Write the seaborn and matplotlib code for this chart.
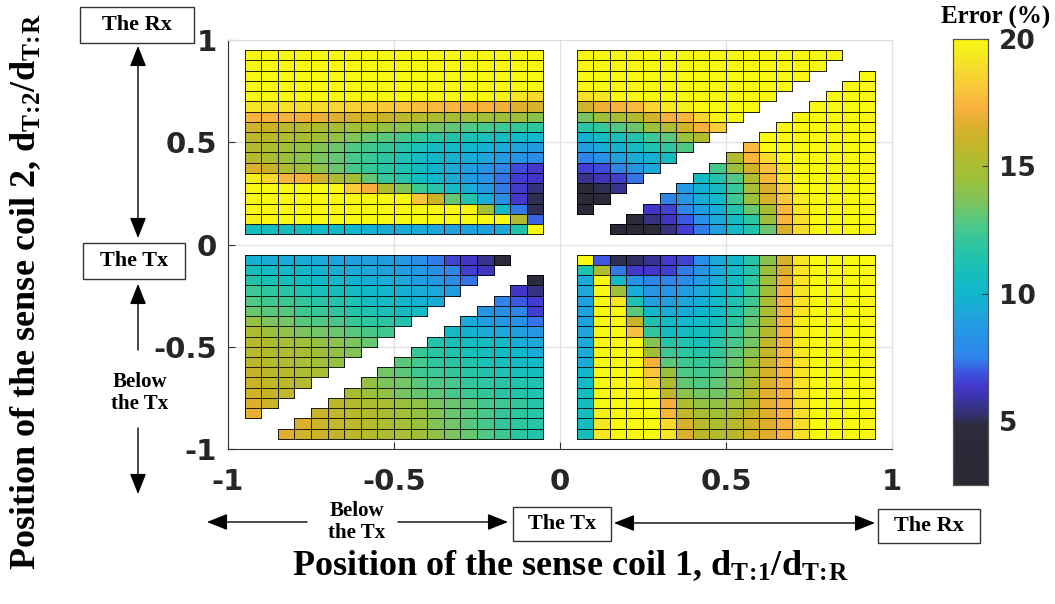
import numpy as np
import pandas as pd
import matplotlib
matplotlib.use('Agg')
import matplotlib.pyplot as plt
import seaborn as sns
from matplotlib.colors import LinearSegmentedColormap
from matplotlib.patches import Rectangle, FancyArrowPatch

N = None

# error (%) per cell, rows from top (y = 0.95) to bottom, columns left to right
# x cells of 0.05 from -0.95..-0.05 and 0.05..0.95, same for y
top_left = [
    [20] * 18,
    [20] * 18,
    [20] * 18,
    [20] * 18,
    [20] * 15 + [19.6, 19.2, 18.8],
    [19.2, 19.1, 19.0, 18.9, 18.8, 18.6, 18.4, 18.3, 18.1, 18.0, 17.8, 17.6, 17.5, 17.4, 17.3, 17.1, 16.7, 16.4],
    [17.4, 17.3, 17.3, 17.1, 17.0, 16.6, 16.4, 16.2, 16.0, 15.6, 15.4, 15.2, 15.0, 14.8, 14.7, 14.6, 14.5, 14.0],
    [16.3, 16.0, 15.6, 15.4, 15.2, 15.0, 14.8, 14.6, 14.3, 14.0, 13.7, 13.4, 13.1, 12.8, 12.5, 12.3, 12.1, 11.9],
    [15.6, 15.5, 15.3, 15.0, 14.7, 14.3, 13.7, 13.3, 12.9, 12.5, 12.2, 11.8, 11.5, 11.2, 11.0, 10.6, 10.3, 10.1],
    [15.4, 15.2, 14.8, 14.3, 13.8, 13.3, 12.8, 12.4, 12.1, 11.6, 11.1, 10.6, 10.3, 10.0, 9.7, 9.4, 9.1, 8.7],
    [15.4, 15.1, 14.5, 14.1, 13.6, 13.1, 12.6, 12.3, 11.8, 11.3, 10.6, 10.2, 9.8, 9.5, 9.2, 8.8, 8.4, 7.9],
    [16.6, 15.9, 15.2, 14.8, 14.1, 13.3, 12.6, 12.2, 11.7, 11.2, 10.5, 9.9, 9.4, 8.9, 8.4, 7.6, 6.8, 6.4],
    [19.6, 18.7, 17.5, 17.3, 16.3, 15.2, 14.6, 13.1, 12.2, 11.6, 10.4, 10.1, 9.5, 8.8, 8.3, 7.3, 6.5, 6.3],
    [20, 20, 20, 20, 20, 20, 18.2, 17.2, 15.3, 13.8, 12.4, 11.6, 10.4, 9.5, 8.6, 7.4, 6.4, 5.4],
    [20] * 10 + [17.9, 16.0, 13.1, 11.5, 9.5, 8.0, 6.4, 5.0],
    [20] * 13 + [19.8, 14.8, 10.3, 7.4, 5.0],
    [19.6] + [20] * 15 + [15.3, 7.1],
    [10.8, 10.7, 10.6, 10.5, 10.3, 10.2, 10.0, 9.8, 9.6, 9.5, 9.4, 9.2, 9.1, 9.0, 9.0, 9.3, 11.5, 20],
]

top_right = [
    [20] * 16 + [N, N],
    [20] * 15 + [N, N, N],
    [20] * 14 + [N, N, N] + [20],
    [20] * 13 + [N, N, N] + [20, 20],
    [19.0, 19.3] + [20] * 10 + [N, N, N] + [20] * 3,
    [16.2, 17.0, 17.4, 17.6, 18.6, 19.4, 19.6, 20, 20, 20, 20] + [N, N, N] + [20] * 4,
    [13.5, 14.6, 15.0, 15.3, 16.3, 17.3, 17.5, 18.6, 19.8, 20] + [N, N, N] + [20] * 5,
    [11.8, 12.2, 12.8, 13.3, 14.5, 15.2, 16.3, 17.3, 18.3] + [N, N, N] + [20] * 6,
    [9.8, 10.5, 11.0, 11.5, 12.3, 13.0, 14.5, 15.3] + [N, N, N] + [20] * 7,
    [8.8, 9.5, 9.8, 10.5, 11.3, 12.0, 12.8] + [N, N, N] + [17.6] + [20] * 7,
    [7.5, 8.3, 9.0, 9.5, 9.8, 10.5] + [N, N, N] + [15.3, 17.5, 18.8] + [20] * 6,
    [6.5, 6.8, 7.5, 8.5, 9.3] + [N, N, N] + [12.5, 14.5, 16.3, 17.8, 19.3] + [20] * 5,
    [5.6, 6.1, 6.5, 7.3] + [N, N, N] + [10.5, 11.5, 12.8, 15.3, 17.5, 19.3] + [20] * 5,
    [4.2, 5.0, 5.6] + [N, N, N] + [8.8, 9.7, 10.5, 12.2, 15.0, 16.5, 18.3] + [20] * 5,
    [3.5, 4.0] + [N, N, N] + [7.5, 8.5, 9.5, 10.3, 12.3, 14.5, 16.5, 18.0, 19.5] + [20] * 4,
    [3.3] + [N, N, N] + [6.3, 6.6, 7.5, 8.8, 9.6, 11.5, 13.3, 15.0, 17.5, 19.3] + [20] * 4,
    [N, N, N] + [4.5, 5.5, 6.2, 7.0, 8.2, 9.3, 10.5, 11.8, 14.5, 17.5, 19.0] + [20] * 4,
    [N, N] + [3.5, 3.8, 4.3, 5.5, 6.5, 7.4, 9.0, 10.3, 11.5, 13.3, 16.5, 18.8] + [20] * 4,
]

bottom_left = [
    [9.8, 9.6, 9.5, 9.5, 9.4, 9.1, 9.0, 8.9, 8.8, 8.6, 8.1, 7.4, 6.6, 6.3, 5.6, 4.5] + [N, N],
    [10.8, 10.4, 10.3, 10.2, 9.8, 9.6, 9.5, 9.2, 9.0, 8.9, 8.6, 8.2, 7.5, 6.5, 6.2] + [N, N, N],
    [11.5, 11.1, 10.9, 10.5, 10.3, 10.2, 9.8, 9.6, 9.5, 9.3, 8.8, 8.6, 7.8, 7.3] + [N, N, N] + [4.5],
    [12.3, 11.9, 11.7, 11.3, 11.0, 10.8, 10.4, 10.2, 10.0, 9.7, 9.5, 9.3, 8.8] + [N, N, N] + [6.3, 5.5],
    [12.8, 12.4, 12.3, 12.1, 11.6, 11.4, 11.2, 10.6, 10.4, 10.2, 9.8, 9.6] + [N, N, N] + [7.5, 7.0, 6.5],
    [13.3, 13.0, 12.9, 12.4, 12.2, 12.0, 11.6, 11.4, 11.1, 10.6, 10.4] + [N, N, N] + [8.5, 8.2, 7.5, 6.5],
    [14.3, 13.6, 13.4, 12.9, 12.8, 12.6, 12.2, 12.0, 11.8, 11.4] + [N, N, N] + [9.5, 8.8, 8.7, 8.3, 7.3],
    [15.1, 14.4, 14.2, 13.6, 13.4, 13.2, 12.9, 12.6, 12.4] + [N, N, N] + [10.3, 9.8, 9.4, 9.2, 9.0, 8.5],
    [15.5, 15.1, 14.9, 14.7, 14.3, 14.1, 13.6, 13.2] + [N, N, N] + [11.5, 11.0, 10.6, 10.5, 10.3, 9.6, 9.3],
    [15.5, 15.3, 15.2, 15.0, 14.6, 14.3, 13.8] + [N, N, N] + [12.2, 11.8, 11.2, 11.0, 10.8, 10.4, 10.2, 9.5],
    [15.6, 15.4, 15.3, 14.9, 14.7, 14.3] + [N, N, N] + [13.0, 12.5, 11.9, 11.7, 11.5, 11.1, 10.9, 10.6, 10.3],
    [15.9, 15.6, 15.5, 15.1, 14.9] + [N, N, N] + [13.4, 13.0, 12.4, 12.3, 12.1, 11.7, 11.5, 11.3, 10.9, 10.7],
    [16.1, 15.8, 15.6, 15.3] + [N, N, N] + [14.3, 13.7, 13.4, 12.9, 12.7, 12.5, 12.1, 11.9, 11.7, 11.4, 11.2],
    [16.3, 15.9, 15.7] + [N, N, N] + [15.0, 14.4, 14.2, 13.5, 13.3, 13.0, 12.5, 12.3, 12.1, 11.7, 11.5, 11.3],
    [16.6, 16.1] + [N, N, N] + [15.6, 15.3, 15.1, 14.9, 14.4, 14.2, 13.5, 13.3, 13.0, 12.5, 12.3, 12.1, 11.6],
    [16.9] + [N, N, N] + [16.1, 15.7, 15.5, 15.3, 15.0, 14.7, 14.3, 13.8, 13.2, 12.9, 12.6, 12.1, 11.9, 11.7],
    [N, N, N] + [16.6, 16.0, 15.8, 15.6, 15.4, 15.2, 14.8, 14.4, 13.8, 13.4, 12.9, 12.5, 12.1, 11.9, 11.7],
    [N, N] + [16.7, 16.3, 16.1, 15.9, 15.6, 15.4, 15.2, 14.9, 14.6, 14.2, 13.6, 13.2, 12.7, 12.3, 11.8, 11.5],
]

bottom_right = [
    [20, 7.0, 5.0, 5.1, 5.7, 6.4, 6.6, 8.1, 9.3, 10.2, 11.6, 14.0, 16.4, 19.2, 20, 20, 20, 20],
    [11.2, 15.2, 7.4, 6.4, 6.3, 6.5, 7.4, 8.4, 9.4, 10.3, 11.6, 14.5, 16.6, 19.3, 20, 20, 20, 20],
    [9.3, 20, 10.3, 8.4, 7.6, 7.5, 7.9, 8.8, 9.5, 10.4, 11.9, 14.7, 17.0, 19.3, 20, 20, 20, 20],
    [9.3, 20, 14.6, 9.5, 8.5, 8.5, 8.8, 9.3, 10.0, 10.7, 12.2, 14.6, 17.2, 19.2, 20, 20, 20, 20],
    [9.0, 20, 19.2, 11.2, 8.9, 8.9, 9.3, 9.6, 10.3, 11.3, 12.4, 15.1, 17.3, 19.2, 20, 20, 20, 20],
    [9.0, 20, 20, 13.0, 10.1, 9.6, 9.6, 10.0, 10.4, 11.6, 12.8, 15.1, 17.4, 19.3, 20, 20, 20, 20],
    [9.0, 20, 20, 16.0, 11.3, 10.4, 10.1, 10.4, 10.7, 11.8, 13.1, 15.1, 17.4, 19.6, 20, 20, 20, 20],
    [9.1, 20, 20, 17.8, 12.0, 10.6, 10.5, 10.8, 11.3, 12.3, 13.4, 15.4, 17.4, 19.6, 20, 20, 20, 20],
    [9.3, 20, 20, 20, 13.8, 11.6, 11.4, 11.0, 11.7, 12.5, 13.5, 15.7, 17.4, 19.6, 20, 20, 20, 20],
    [9.4, 20, 20, 20, 14.7, 12.3, 11.9, 11.6, 12.1, 13.0, 14.0, 15.8, 17.6, 19.4, 20, 20, 20, 20],
    [9.5, 20, 20, 20, 17.2, 13.0, 12.4, 12.2, 12.4, 13.3, 14.5, 16.2, 17.5, 19.3, 20, 20, 20, 20],
    [10.0, 20, 20, 20, 18.0, 14.4, 12.7, 12.4, 12.8, 13.5, 14.8, 16.4, 17.5, 19.3, 20, 20, 20, 20],
    [10.3, 20, 20, 20, 18.7, 15.2, 13.1, 12.8, 13.1, 14.0, 15.1, 16.6, 17.4, 19.2, 20, 20, 20, 20],
    [10.5, 20, 20, 20, 20, 15.8, 14.1, 13.4, 13.4, 14.3, 15.4, 16.8, 17.4, 19.2, 20, 20, 20, 20],
    [10.5, 20, 20, 20, 20, 17.2, 15.2, 14.2, 14.3, 14.8, 15.4, 16.8, 17.3, 19.0, 20, 20, 20, 20],
    [10.6, 19.6, 20, 20, 20, 17.5, 15.8, 15.0, 14.7, 15.1, 15.9, 16.7, 17.3, 19.0, 20, 20, 20, 20],
    [10.7, 19.3, 20, 20, 20, 18.8, 16.4, 15.4, 15.2, 15.5, 16.2, 16.6, 17.4, 19.0, 20, 20, 20, 20],
    [10.8, 19.3, 20, 20, 20, 19.2, 16.6, 15.6, 15.4, 15.6, 16.4, 16.6, 17.3, 19.1, 20, 20, 20, 20],
]

x_ticklabels = ['-1', '-0.5', '0', '0.5', '1']
y_ticklabels = ['1', '0.5', '0', '-0.5', '-1']

# colour stops (value, colour)
cbar_stops = [(2.5, '#2a2933'), (4.8, '#2c2b3c'), (5.2, '#33306a'), (5.8, '#3a34a0'),
              (6.3, '#4435c8'), (6.9, '#3d52e0'), (7.5, '#2f85ea'), (8.5, '#2595e4'),
              (9.3, '#1ea8da'), (10.0, '#10b6cc'), (11.0, '#19bfb8'), (12.0, '#30c69e'),
              (12.8, '#50c884'), (13.5, '#78c462'), (14.5, '#9cc03c'), (15.2, '#aebc30'),
              (16.0, '#c8b428'), (16.7, '#deb02e'), (17.3, '#f8b03c'), (18.0, '#f8c63c'),
              (19.0, '#f6df2a'), (20.0, '#f8f812')]
vmin, vmax = 2.5, 20

W, H = 1055, 604


def fx(x):
    return x / W


def fy(y):
    return 1 - y / H


# full -1..1 grid in 0.05 steps, blank margins around the four blocks
step = 0.05
centers = np.round(np.arange(-1 + step / 2, 1, step), 3)
grid = pd.DataFrame(np.nan, index=centers[::-1], columns=centers)
blocks = [(top_left, 0.05, -0.95), (top_right, 0.05, 0.05),
          (bottom_left, -0.95, -0.95), (bottom_right, -0.95, 0.05)]
for vals, y0, x0 in blocks:
    arr = np.array(vals, dtype=float)
    ys = np.round(y0 + step * (np.arange(18)[::-1] + 0.5), 3)
    xs = np.round(x0 + step * (np.arange(18) + 0.5), 3)
    grid.loc[ys, xs] = arr

cmap = LinearSegmentedColormap.from_list(
    'err', [((v - vmin) / (vmax - vmin), c) for v, c in cbar_stops])

plt.rcParams['font.family'] = 'DejaVu Sans'
plt.rcParams['mathtext.fontset'] = 'custom'
plt.rcParams['mathtext.rm'] = 'Liberation Serif:bold'
plt.rcParams['mathtext.it'] = 'Liberation Serif:bold'
plt.rcParams['mathtext.bf'] = 'Liberation Serif:bold'

fig = plt.figure(figsize=(10.55, 6.04), dpi=100)
ax = fig.add_axes([fx(228), fy(449), fx(892) - fx(228), fy(40) - fy(449)])
cax = fig.add_axes([fx(953), fy(485), fx(988) - fx(953), fy(39) - fy(485)])

sns.heatmap(grid, ax=ax, cbar_ax=cax, cmap=cmap, vmin=vmin, vmax=vmax,
            linewidths=0.7, linecolor='black', xticklabels=False, yticklabels=False)

# no cell borders where there is no value
mesh = ax.collections[0]
edge = np.zeros((grid.size, 4))
edge[:, 3] = np.where(np.isnan(grid.values.ravel()), 0.0, 0.85)
mesh.set_edgecolors(edge)
mesh.set_joinstyle('miter')

n = len(centers)
ax.set_xticks(np.linspace(0, n, 5))
ax.set_xticklabels(x_ticklabels)
ax.set_yticks(np.linspace(0, n, 5))
ax.set_yticklabels(y_ticklabels)
ax.set_xlabel('')
ax.set_ylabel('')
ax.grid(True, color='#e2e2e2', lw=0.9)
ax.set_axisbelow(True)
for side, sp in ax.spines.items():
    sp.set_visible(True)
    sp.set_linewidth(0.8)
    sp.set_color('#333333' if side in ('left', 'bottom') else '#dcdcdc')
ax.tick_params(direction='in', length=5, width=0.8, color='#333333',
               labelsize=21, pad=8)
for lab in ax.get_xticklabels() + ax.get_yticklabels():
    lab.set_fontweight('bold')
    lab.set_color('#262626')
ax.tick_params(axis='x', pad=14)

cax.set_yticks([5, 10, 15, 20])
cax.set_yticklabels(['5', '10', '15', '20'])
cax.yaxis.set_ticks_position('right')
cax.tick_params(direction='in', length=4, width=0.8, color='#333333', labelsize=19, pad=8)
for lab in cax.get_yticklabels():
    lab.set_fontweight('bold')
    lab.set_color('#262626')
for sp in cax.spines.values():
    sp.set_visible(True)
    sp.set_linewidth(0.8)
    sp.set_color('#555555')

serif = 'Liberation Serif'
fig.text(fx(996), fy(17), 'Error (%)', ha='center', va='center',
         family=serif, weight='bold', fontsize=18)

fig.text(fx(570), fy(566),
         r'Position of the sense coil 1, d$_{\mathrm{T\!:\!1}}$/d$_{\mathrm{T\!:\!R}}$',
         ha='center', va='center', family=serif, weight='bold', fontsize=26)
fig.text(fx(26), fy(292),
         r'Position of the sense coil 2, d$_{\mathrm{T\!:\!2}}$/d$_{\mathrm{T\!:\!R}}$',
         ha='center', va='center', rotation=90, family=serif, weight='bold', fontsize=26)


def label_box(x0, y0, x1, y1, text):
    fig.add_artist(Rectangle((fx(x0), fy(y1)), fx(x1) - fx(x0), fy(y0) - fy(y1),
                             transform=fig.transFigure, fc='white', ec='#333333', lw=1))
    fig.text(fx((x0 + x1) / 2), fy((y0 + y1) / 2), text, ha='center', va='center',
             family=serif, weight='bold', fontsize=16)


def arrow(p0, p1, style):
    fig.add_artist(FancyArrowPatch((fx(p0[0]), fy(p0[1])), (fx(p1[0]), fy(p1[1])),
                                   transform=fig.transFigure,
                                   arrowstyle=style + ',head_length=0.7,head_width=0.28',
                                   mutation_scale=18, lw=1, color='black',
                                   shrinkA=0, shrinkB=0))


# left side annotations
label_box(80, 7, 194, 43, 'The Rx')
label_box(83, 243, 185, 279, 'The Tx')
arrow((138, 46), (138, 238), '<|-|>')
arrow((138, 350), (138, 284), '-|>')
arrow((138, 428), (138, 494), '-|>')
fig.text(fx(140), fy(393), 'Below\nthe Tx', ha='center', va='center',
         family=serif, weight='bold', fontsize=15, linespacing=1.15)

# bottom annotations
label_box(513, 507, 611, 541, 'The Tx')
label_box(878, 509, 980, 543, 'The Rx')
arrow((307, 522), (207, 522), '-|>')
arrow((398, 522), (508, 522), '-|>')
arrow((614, 523), (875, 523), '<|-|>')
fig.text(fx(357), fy(522), 'Below\nthe Tx', ha='center', va='center',
         family=serif, weight='bold', fontsize=15, linespacing=1.15)

fig.savefig('out.png', dpi=100)
